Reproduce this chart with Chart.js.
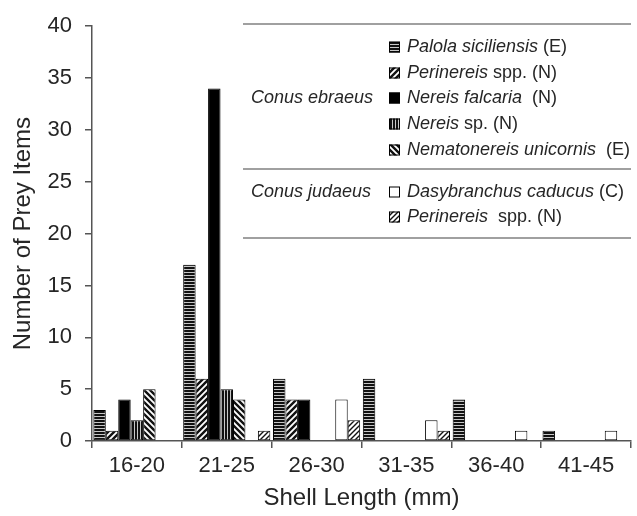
<!DOCTYPE html>
<html>
<head>
<meta charset="utf-8">
<script src="https://cdn.jsdelivr.net/npm/chart.js@4.4.1/dist/chart.umd.min.js"></script>
<style>
  html, body { margin: 0; padding: 0; background: #fff; }
  #wrap { width: 637px; height: 516px; position: relative; }
</style>
</head>
<body>
<div id="wrap"><canvas id="c" width="637" height="516"></canvas></div>
<script>
// ---- data ----
const categories = ['16-20', '21-25', '26-30', '31-35', '36-40', '41-45'];
const palolaSiciliensis   = [3, 17, 6, 6, 4, 1];
const perinereisEbraeus   = [1, 6, 4, 0, 0, 0];
const nereisFalcaria      = [4, 34, 4, 0, 0, 0];
const nereisSp            = [2, 5, 0, 0, 0, 0];
const nematonereisUnicornis = [5, 4, 0, 0, 0, 0];
const dasybranchusCaducus = [0, 0, 4, 2, 1, 1];
const perinereisJudaeus   = [0, 1, 2, 1, 0, 0];
const yTicks = [0, 5, 10, 15, 20, 25, 30, 35, 40];
const groupLabels = ['Conus ebraeus', 'Conus judaeus'];
const seriesItalic = ['Palola siciliensis', 'Perinereis', 'Nereis falcaria', 'Nereis', 'Nematonereis unicornis', 'Dasybranchus caducus', 'Perinereis'];
const seriesSuffix = [' (E)', ' spp. (N)', '  (N)', ' sp. (N)', '  (E)', ' (C)', '  spp. (N)'];
const xTitle = 'Shell Length (mm)';
const yTitle = 'Number of Prey Items';

// ---- patterns ----
function makePattern(kind) {
  const c = document.createElement('canvas');
  const x = c.getContext('2d');
  if (kind === 'h') {
    c.width = 4; c.height = 3;
    x.fillStyle = '#c8c8c8'; x.fillRect(0, 0, 4, 3);
    x.fillStyle = '#111'; x.fillRect(0, 0, 4, 2);
  } else if (kind === 'v') {
    c.width = 3; c.height = 4;
    x.fillStyle = '#c8c8c8'; x.fillRect(0, 0, 3, 4);
    x.fillStyle = '#111'; x.fillRect(0, 0, 2, 4);
  } else if (kind === 'solid') {
    c.width = 2; c.height = 2;
    x.fillStyle = '#000'; x.fillRect(0, 0, 2, 2);
  } else if (kind === 'white') {
    c.width = 2; c.height = 2;
    x.fillStyle = '#fff'; x.fillRect(0, 0, 2, 2);
  } else {
    const s = kind === 'fwdThin' ? 5 : 6;
    c.width = s; c.height = s;
    x.fillStyle = '#fff'; x.fillRect(0, 0, s, s);
    x.strokeStyle = '#111';
    x.lineWidth = kind === 'fwdThin' ? 1.4 : 2.4;
    x.beginPath();
    if (kind === 'back') {
      x.moveTo(-s, 0); x.lineTo(s * 2, s * 3);
      x.moveTo(-s, -s); x.lineTo(s * 2, s * 2);
      x.moveTo(0, -s); x.lineTo(s * 2, s);
      x.moveTo(-s, s); x.lineTo(s, s * 3);
    } else {
      x.moveTo(-s, s * 2); x.lineTo(s * 2, -s);
      x.moveTo(-s, s); x.lineTo(s, -s);
      x.moveTo(0, s * 2); x.lineTo(s * 2, 0);
    }
    x.stroke();
  }
  const main = document.getElementById('c').getContext('2d');
  return main.createPattern(c, 'repeat');
}

const fills = [
  makePattern('h'),
  makePattern('fwd'),
  makePattern('solid'),
  makePattern('v'),
  makePattern('back'),
  makePattern('white'),
  makePattern('fwdThin')
];
const seriesData = [palolaSiciliensis, perinereisEbraeus, nereisFalcaria, nereisSp, nematonereisUnicornis, dasybranchusCaducus, perinereisJudaeus];

const datasets = seriesData.map((d, i) => ({
  label: seriesItalic[i] + seriesSuffix[i],
  data: d,
  backgroundColor: fills[i],
  borderColor: '#000',
  borderWidth: 1,
  borderSkipped: false,
  categoryPercentage: 0.97,
  barPercentage: 1.0
}));

const FONT = "'Liberation Sans', Arial, sans-serif";
const TXT = '#262626';

const legendPlugin = {
  id: 'customLegend',
  afterDraw(chart) {
    const ctx = chart.ctx;
    ctx.save();
    ctx.strokeStyle = '#808080';
    ctx.lineWidth = 1.5;
    [24, 169, 238].forEach(y => {
      ctx.beginPath(); ctx.moveTo(243, y); ctx.lineTo(631, y); ctx.stroke();
    });
    ctx.fillStyle = TXT;
    ctx.textBaseline = 'middle';
    ctx.textAlign = 'left';
    ctx.font = 'italic 18px ' + FONT;
    ctx.fillText(groupLabels[0], 251, 98);
    ctx.fillText(groupLabels[1], 251, 192);
    const rows = [47, 73, 98, 124, 150, 192, 217];
    rows.forEach((y, i) => {
      ctx.fillStyle = fills[i];
      ctx.fillRect(389, y - 5.5, 11, 11);
      ctx.strokeStyle = '#000';
      ctx.lineWidth = 1;
      ctx.strokeRect(389.5, y - 5, 10, 10);
      ctx.fillStyle = TXT;
      ctx.font = 'italic 18px ' + FONT;
      ctx.fillText(seriesItalic[i], 407, y);
      const w = ctx.measureText(seriesItalic[i]).width;
      ctx.font = '18px ' + FONT;
      ctx.fillText(seriesSuffix[i], 407 + w, y);
    });
    ctx.restore();
  }
};

new Chart(document.getElementById('c'), {
  type: 'bar',
  data: { labels: categories, datasets },
  plugins: [legendPlugin],
  options: {
    responsive: false,
    animation: false,
    layout: { padding: { top: 23, right: 6, left: 0, bottom: 0 } },
    plugins: { legend: { display: false }, tooltip: { enabled: false } },
    scales: {
      x: {
        offset: true,
        grid: { offset: true, drawOnChartArea: false, tickLength: 7, color: '#555', lineWidth: 1.5 },
        border: { color: '#555', width: 1.5 },
        ticks: { color: TXT, font: { family: FONT, size: 22 }, padding: 5, maxRotation: 0 },
        title: { display: true, text: xTitle, color: TXT, font: { family: FONT, size: 24 }, padding: { top: 0, bottom: 3 } },
        afterFit(s) { s.height = 75; }
      },
      y: {
        min: 0, max: 40,
        afterBuildTicks(s) { s.ticks = yTicks.map(v => ({ value: v })); },
        grid: { drawOnChartArea: false, tickLength: 7, color: '#555', lineWidth: 1.5 },
        border: { color: '#555', width: 1.5 },
        ticks: { color: TXT, font: { family: FONT, size: 22 }, padding: 13 },
        title: { display: true, text: yTitle, color: TXT, font: { family: FONT, size: 24 }, padding: { top: 9, bottom: 0 } },
        afterFit(s) { s.width = 92; }
      }
    }
  }
});
</script>
</body>
</html>
